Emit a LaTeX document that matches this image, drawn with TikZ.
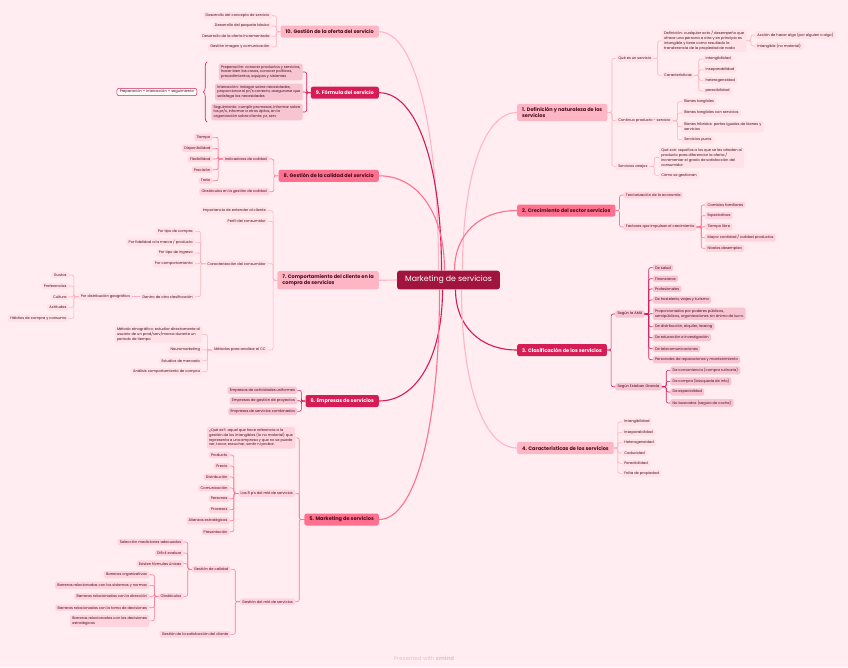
\documentclass[tikz,border=0pt]{standalone}
\usepackage{fontspec}
\setmainfont{Poppins}
\definecolor{mkbg}{RGB}{255,237,241}
\definecolor{mkroot}{RGB}{160,20,62}
\definecolor{mkcrim}{RGB}{214,28,84}
\definecolor{mkmid}{RGB}{255,112,142}
\definecolor{mklight}{RGB}{255,182,196}
\definecolor{mkink}{RGB}{72,14,32}
\definecolor{mkfoot}{RGB}{236,190,202}
\definecolor{fillA}{RGB}{255,226,232}
\definecolor{fillB}{RGB}{255,212,222}
\definecolor{fillC}{RGB}{247,196,210}
\definecolor{lineA}{RGB}{255,176,192}
\definecolor{lineB}{RGB}{255,118,148}
\definecolor{lineC}{RGB}{212,32,88}
\usetikzlibrary{positioning,calc,decorations.pathreplacing}

\begin{document}
\begin{tikzpicture}[x=1pt,y=-1pt,
  root/.style={fill=mkroot,text=white,rounded corners=2.5pt,font=\fontsize{7.8}{9}\selectfont,
    inner xsep=8pt,minimum height=18.6pt},
  br/.style={rounded corners=2pt,font=\fontsize{5}{6.4}\selectfont\bfseries,inner xsep=5pt,
    inner ysep=3.3pt,minimum height=12pt,align=left,text=mkink},
  brA/.style={br,fill=mklight},
  brB/.style={br,fill=mkmid},
  brC/.style={br,fill=mkcrim,text=white},
  leaf/.style={rounded corners=1.5pt,font=\fontsize{3.63}{4.75}\selectfont,inner xsep=2.2pt,
    inner ysep=1.8pt,align=left,text=mkink},
  lfA/.style={leaf,fill=fillA},
  lfB/.style={leaf,fill=fillB},
  lfC/.style={leaf,fill=fillC},
  lk/.style={line width=0.6pt,rounded corners=2pt},
  lkA/.style={lk,draw=lineA},
  lkB/.style={lk,draw=lineB},
  lkC/.style={lk,draw=lineC},
  trunk/.style={line width=1.1pt},
  sumbox/.style={leaf,fill=white!70!mkbg,draw=lineC,line width=0.5pt,rounded corners=2.5pt,inner xsep=3pt},
  brc/.style={draw=lineC,line width=0.6pt,decorate,decoration={brace,amplitude=4pt}}
]
\fill[mkbg] (0,0) rectangle (848,667);
\useasboundingbox (0,0) rectangle (848,667);

% Central topic
\node[root] (root) at (448.5,280) {Marketing de servicios};

% 1. Definicion
\node[brA,anchor=west] (b1) at (517,112.5) {1. Definición y naturaleza de los\\servicios};
\coordinate (cx) at ([xshift=8.5]b1.east);
\foreach \y/\txt/\n in {58.3/{Qué es un servicio}/qs,120.7/{Continuo producto - servicio}/cps,166.3/{Servicios anejos}/ane}{
  \node[lfA,anchor=west] (\n) at (cx |- 0,\y) {\txt};
  \draw[lkA] (b1.east) -- ++(4.5,0) |- (\n.west);}
\coordinate (cx) at ([xshift=8]qs.east);
\node[lfA,anchor=west] (def) at (cx |- 0,40.8) {Definición: cualquier acto / desempeño que\\ofrece una persona a otra y en principio es\\intangible y tiene como resultado la\\transferencia de la propiedad de nada};
\node[lfA,anchor=west] (car) at (cx |- 0,75.3) {Características};
\foreach \n in {def,car} \draw[lkA] (qs.east) -- ++(4,0) |- (\n.west);
\coordinate (cx) at ([xshift=8.5]def.east);
\foreach \y/\txt [count=\i] in {35/{Acción de hacer algo (por alguien o algo)},46/{Intangible (no material)}}{
  \node[lfA,anchor=west] (def\i) at (cx |- 0,\y) {\txt};
  \draw[lkA] (def.east) -- ++(4.5,0) |- (def\i.west);}
\coordinate (cx) at ([xshift=9]car.east);
\foreach \y/\txt [count=\i] in {59/{intangibilidad},69.7/{inseparabilidad},80.3/{heterogeneidad},91/{perecibilidad}}{
  \node[lfA,anchor=west] (car\i) at (cx |- 0,\y) {\txt};
  \draw[lkA] (car.east) -- ++(4.5,0) |- (car\i.west);}
\coordinate (cx) at ([xshift=9]cps.east);
\foreach \y/\txt [count=\i] in {101.7/{Bienes tangibles},113/{Bienes tangibles con servicios},126.7/{Bienes híbridos: partes iguales de bienes y\\servicios},139.7/{Servicios puros}}{
  \node[lfA,anchor=west] (cps\i) at (cx |- 0,\y) {\txt};
  \draw[lkA] (cps.east) -- ++(4.5,0) |- (cps\i.west);}
\coordinate (cx) at ([xshift=9]ane.east);
\foreach \y/\txt [count=\i] in {157.5/{Qué son: aquellos a los que se les añaden al\\producto para diferenciar la oferta /\\incrementar el grado de satisfacción del\\consumidor},175.3/{Cómo se gestionan}}{
  \node[lfA,anchor=west] (ane\i) at (cx |- 0,\y) {\txt};
  \draw[lkA] (ane.east) -- ++(4.5,0) |- (ane\i.west);}

% 2. Crecimiento
\node[brB,anchor=west] (b2) at (517,210.5) {2. Crecimiento del sector servicios};
\coordinate (cx) at ([xshift=8]b2.east);
\node[lfB,anchor=west] (ter) at (cx |- 0,195) {Terciarización de la economía};
\node[lfB,anchor=west] (fac) at (cx |- 0,227) {Factores que impulsan el crecimiento};
\foreach \n in {ter,fac} \draw[lkB] (b2.east) -- ++(4,0) |- (\n.west);
\coordinate (cx) at ([xshift=8.5]fac.east);
\foreach \y/\txt [count=\i] in {205/{Cambios familiares},215.7/{Expectativas},226.7/{Tiempo libre},237.7/{Mayor cantidad / calidad productos},248.3/{Niveles desempleo}}{
  \node[lfB,anchor=west] (fac\i) at (cx |- 0,\y) {\txt};
  \draw[lkB] (fac.east) -- ++(4.5,0) |- (fac\i.west);}

% 3. Clasificacion
\node[brC,anchor=west] (b3) at (517,350) {3. Clasificación de los servicios};
\coordinate (cx) at ([xshift=8]b3.east);
\node[lfC,anchor=west] (ama) at (cx |- 0,314) {Según la AMA};
\node[lfC,anchor=west] (egr) at (cx |- 0,386.7) {Según Esteban Granda};
\foreach \n in {ama,egr} \draw[lkC] (b3.east) -- ++(4,0) |- (\n.west);
\coordinate (cx) at ([xshift=8]ama.east);
\foreach \y/\txt [count=\i] in {267.7/{De salud},278.7/{Financieros},289/{Profesionales},300/{De hostelería, viajes y turismo},313.7/{Proporcionados por poderes públicos,\\semipúblicos, organizaciones sin ánimo de lucro},326.7/{De distribución, alquiler, leasing},337.7/{De educación e investigación},348.7/{De telecomunicaciones},359.7/{Personales de reparaciones y mantenimiento}}{
  \node[lfC,anchor=west] (ama\i) at (cx |- 0,\y) {\txt};
  \draw[lkC] (ama.east) -- ++(4,0) |- (ama\i.west);}
\coordinate (cx) at ([xshift=8.5]egr.east);
\foreach \y/\txt [count=\i] in {370.3/{De conveniencia (compra rutinaria)},381.3/{De compra (búsqueda de info)},392/{De especialidad},403/{No buscados (seguro de coche)}}{
  \node[lfC,anchor=west] (egr\i) at (cx |- 0,\y) {\txt};
  \draw[lkC] (egr.east) -- ++(4.5,0) |- (egr\i.west);}

% 4. Caracteristicas
\node[brA,anchor=west] (b4) at (517,448) {4. Características de los servicios};
\coordinate (cx) at ([xshift=8]b4.east);
\foreach \y/\txt [count=\i] in {422/{Intangibilidad},432.3/{Inseparabilidad},442.7/{Heterogeneidad},453/{Caducidad},463.3/{Perecibilidad},473.3/{Falta de propiedad}}{
  \node[lfA,anchor=west] (crs\i) at (cx |- 0,\y) {\txt};
  \draw[lkA] (b4.east) -- ++(4,0) |- (crs\i.west);}

% 10. Gestion de la oferta
\node[brA,anchor=east] (b10) at (379,31.7) {10. Gestión de la oferta del servicio};
\coordinate (cx) at ([xshift=-8.5]b10.west);
\foreach \y/\txt [count=\i] in {15.7/{Desarrollo del concepto de servicio},26/{Desarrollo del paquete básico},36.3/{Desarrollo de la oferta incrementada},47/{Gestión imagen y comunicación}}{
  \node[lfA,anchor=east] (of\i) at (cx |- 0,\y) {\txt};
  \draw[lkA] (b10.west) -- ++(-4,0) |- (of\i.east);}

% 9. Formula
\node[brC,anchor=east] (b9) at (379,92.7) {9. Fórmula del servicio};
\coordinate (cx) at ([xshift=-8]b9.west);
\foreach \y/\txt [count=\i] in {72/{Preparación: conocer productos y servicios,\\hacer bien las cosas, conocer políticas,\\procedimientos, equipos y sistemas},92/{Interacción: indagar sobre necesidades,\\proporcionar el pr/s correcto, asegurarse que\\satisfaga las necesidades},112/{Seguimiento: cumplir promesas, informar sobre\\los pr/s, informar a otros dptos, en la\\organización sobre cliente, pr, serv}}{
  \node[lfC,anchor=east] (fs\i) at (cx |- 0,\y) {\txt};
  \draw[lkC] (b9.west) -- ++(-4,0) |- (fs\i.east);}
\coordinate (f9top) at ($(fs3.west |- fs1.north)+(-4,-1.5)$);
\coordinate (f9bot) at ($(fs3.west |- fs3.south)+(-4,1.5)$);
\draw[brc] (f9bot) -- (f9top);
\node[sumbox,anchor=east] (sum9) at ($(f9top)!0.5!(f9bot)+(-10,0)$) {Preparación + interacción + seguimiento};

% 8. Gestion de la calidad
\node[brB,anchor=east] (b8) at (379,175.8) {8. Gestión de la calidad del servicio};
\coordinate (cx) at ([xshift=-9]b8.west);
\node[lfB,anchor=east] (ind) at (cx |- 0,159) {Indicadores de calidad};
\node[lfB,anchor=east] (obq) at (cx |- 0,191.7) {Obstáculos en la gestión de calidad};
\foreach \n in {ind,obq} \draw[lkB] (b8.west) -- ++(-4.5,0) |- (\n.east);
\coordinate (cx) at ([xshift=-10]ind.west);
\foreach \y/\txt [count=\i] in {137.3/{Tiempo},148.3/{Disponibilidad},159/{Flexibilidad},169.7/{Precisión},180.7/{Trato}}{
  \node[lfB,anchor=east] (ind\i) at (cx |- 0,\y) {\txt};
  \draw[lkB] (ind.west) -- ++(-4.5,0) |- (ind\i.east);}

% 7. Comportamiento del cliente
\node[brA,anchor=east] (b7) at (379,280.3) {7. Comportamiento del cliente en la\\compra de servicios};
\coordinate (cx) at ([xshift=-9]b7.west);
\foreach \y/\txt/\n in {210.7/{Importancia de entender al cliente}/imp,221.3/{Perfil del consumidor}/per,263.7/{Caracterización del consumidor}/cca,350/{Métodos para analizar el CC}/met}{
  \node[lfA,anchor=east] (\n) at (cx |- 0,\y) {\txt};
  \draw[lkA] (b7.west) -- ++(-4,0) |- (\n.east);}
\coordinate (cx) at ([xshift=-10]cca.west);
\foreach \y/\txt [count=\i] in {231.3/{Por tipo de compra},242.3/{Por fidelidad a la marca / producto},253/{Por tipo de ingreso},263.7/{Por comportamiento},296.7/{Dentro de otra clasificación}}{
  \node[lfA,anchor=east] (cca\i) at (cx |- 0,\y) {\txt};
  \draw[lkA] (cca.west) -- ++(-4.5,0) |- (cca\i.east);}
\node[lfA,anchor=east] (pdg) at ([xshift=-8]cca5.west) {Por distribución geográfica};
\draw[lkA] (cca5.west) -- (pdg.east);
\coordinate (cx) at ([xshift=-9.5]pdg.west);
\foreach \y/\txt [count=\i] in {275/{Gustos},286/{Preferencias},296.7/{Cultura},307.3/{Actitudes},318.3/{Hábitos de compra y consumo}}{
  \node[lfA,anchor=east] (pdg\i) at (cx |- 0,\y) {\txt};
  \draw[lkA] (pdg.west) -- ++(-4.5,0) |- (pdg\i.east);}
\coordinate (cx) at ([xshift=-9.5]met.west);
\foreach \y/\txt [count=\i] in {334.3/{Método etnográfico: estudiar directamente al\\usuario de un prod/serv/marca durante un\\periodo de tiempo},349.7/{Neuromarketing},360.7/{Estudios de mercado},371.7/{Análisis comportamiento de compra}}{
  \node[lfA,anchor=east] (met\i) at (cx |- 0,\y) {\txt};
  \draw[lkA] (met.west) -- ++(-4.5,0) |- (met\i.east);}

% 6. Empresas de servicios
\node[brC,anchor=east] (b6) at (379,401) {6. Empresas de servicios};
\coordinate (cx) at ([xshift=-8]b6.west);
\foreach \y/\txt [count=\i] in {390.3/{Empresas de actividades uniformes},400.7/{Empresas de gestión de proyectos},411.3/{Empresas de servicios combinados}}{
  \node[lfC,anchor=east] (emp\i) at (cx |- 0,\y) {\txt};
  \draw[lkC] (b6.west) -- ++(-4,0) |- (emp\i.east);}

% 5. Marketing de servicios
\node[brB,anchor=east] (b5) at (379,519.5) {5. Marketing de servicios};
\coordinate (cx) at ([xshift=-9]b5.west);
\foreach \y/\txt/\n in {437.8/{¿Qué es?: aquel que hace referencia a la\\gestión de los intangibles (lo no material) que\\representa a una empresa y que no se puede\\ver, tocar, escuchar, sentir ni probar.}/que,493.3/{Las 8 p's del mkt de servicios}/pps,601.7/{Gestión del mkt de servicios}/gms}{
  \node[lfB,anchor=east] (\n) at (cx |- 0,\y) {\txt};
  \draw[lkB] (b5.west) -- ++(-5,0) |- (\n.east);}
\coordinate (cx) at ([xshift=-8.5]pps.west);
\foreach \y/\txt [count=\i] in {455/{Producto},466/{Precio},477/{Distribución},488/{Comunicación},498.7/{Personas},509.7/{Procesos},520.7/{Alianzas estratégicas},531.7/{Presentación}}{
  \node[lfB,anchor=east] (pps\i) at (cx |- 0,\y) {\txt};
  \draw[lkB] (pps.west) -- ++(-4.5,0) |- (pps\i.east);}
\coordinate (cx) at ([xshift=-9]gms.west);
\node[lfB,anchor=east] (gca) at (cx |- 0,569.3) {Gestión de calidad};
\node[lfB,anchor=east] (gsc) at (cx |- 0,634.3) {Gestión de la satisfacción del cliente};
\foreach \n in {gca,gsc} \draw[lkB] (gms.west) -- ++(-4.5,0) |- (\n.east);
\coordinate (cx) at ([xshift=-8]gca.west);
\foreach \y/\txt/\n in {542/{Selección mediciones adecuados}/gc1,553/{Difícil evaluar}/gc2,563.7/{Existen fórmulas únicas}/gc3,596.3/{Obstáculos}/obs}{
  \node[lfB,anchor=east] (\n) at (cx |- 0,\y) {\txt};
  \draw[lkB] (gca.west) -- ++(-4,0) |- (\n.east);}
\coordinate (cx) at ([xshift=-9]obs.west);
\foreach \y/\txt [count=\i] in {574.7/{Barreras organizativas},585.3/{Barreras relacionadas con los sistemas y normas},596.3/{Barreras relacionadas con la dirección},607.7/{Barreras relacionadas con la toma de decisiones},620.8/{Barreras relacionadas con las decisiones\\estratégicas}}{
  \node[lfB,anchor=east] (obs\i) at (cx |- 0,\y) {\txt};
  \draw[lkB] (obs.west) -- ++(-4,0) |- (obs\i.east);}

% Connections from the central topic
\coordinate (s1) at ([xshift=14]root.north);
\coordinate (s2) at ([xshift=6]root.north);
\coordinate (s3) at ([xshift=7]root.south);
\coordinate (s4) at ([xshift=13]root.south);
\coordinate (s10) at ([xshift=-10]root.north);
\coordinate (s9) at ([xshift=-7]root.north);
\coordinate (s8) at ([xshift=-4]root.north);
\coordinate (s6) at ([xshift=-6]root.south);
\coordinate (s5) at ([xshift=-9]root.south);
\foreach \s/\bn/\col in {s1/b1/mklight,s2/b2/mkmid,s3/b3/mkcrim,s4/b4/mklight}
  \draw[trunk,draw=\col] (\s) .. controls ($(\s)!0.6!(\s |- \bn.west)$) and ($(\bn.west)!0.6!(\s |- \bn.west)$) .. (\bn.west);
\foreach \s/\bn/\col in {s10/b10/mklight,s9/b9/mkcrim,s8/b8/mkmid,s6/b6/mkcrim,s5/b5/mkmid}
  \draw[trunk,draw=\col] (\s) .. controls ($(\s)!0.6!(\s |- \bn.east)$) and ($(\bn.east)!0.6!(\s |- \bn.east)$) .. (\bn.east);
\draw[trunk,draw=mklight] (root.west) -- (b7.east);

% Footer
\node[font=\fontsize{5.5}{6}\selectfont,text=mkfoot] (foot) at (424,658) {Presented with \textbf{xmind}};
\end{tikzpicture}
\end{document}
